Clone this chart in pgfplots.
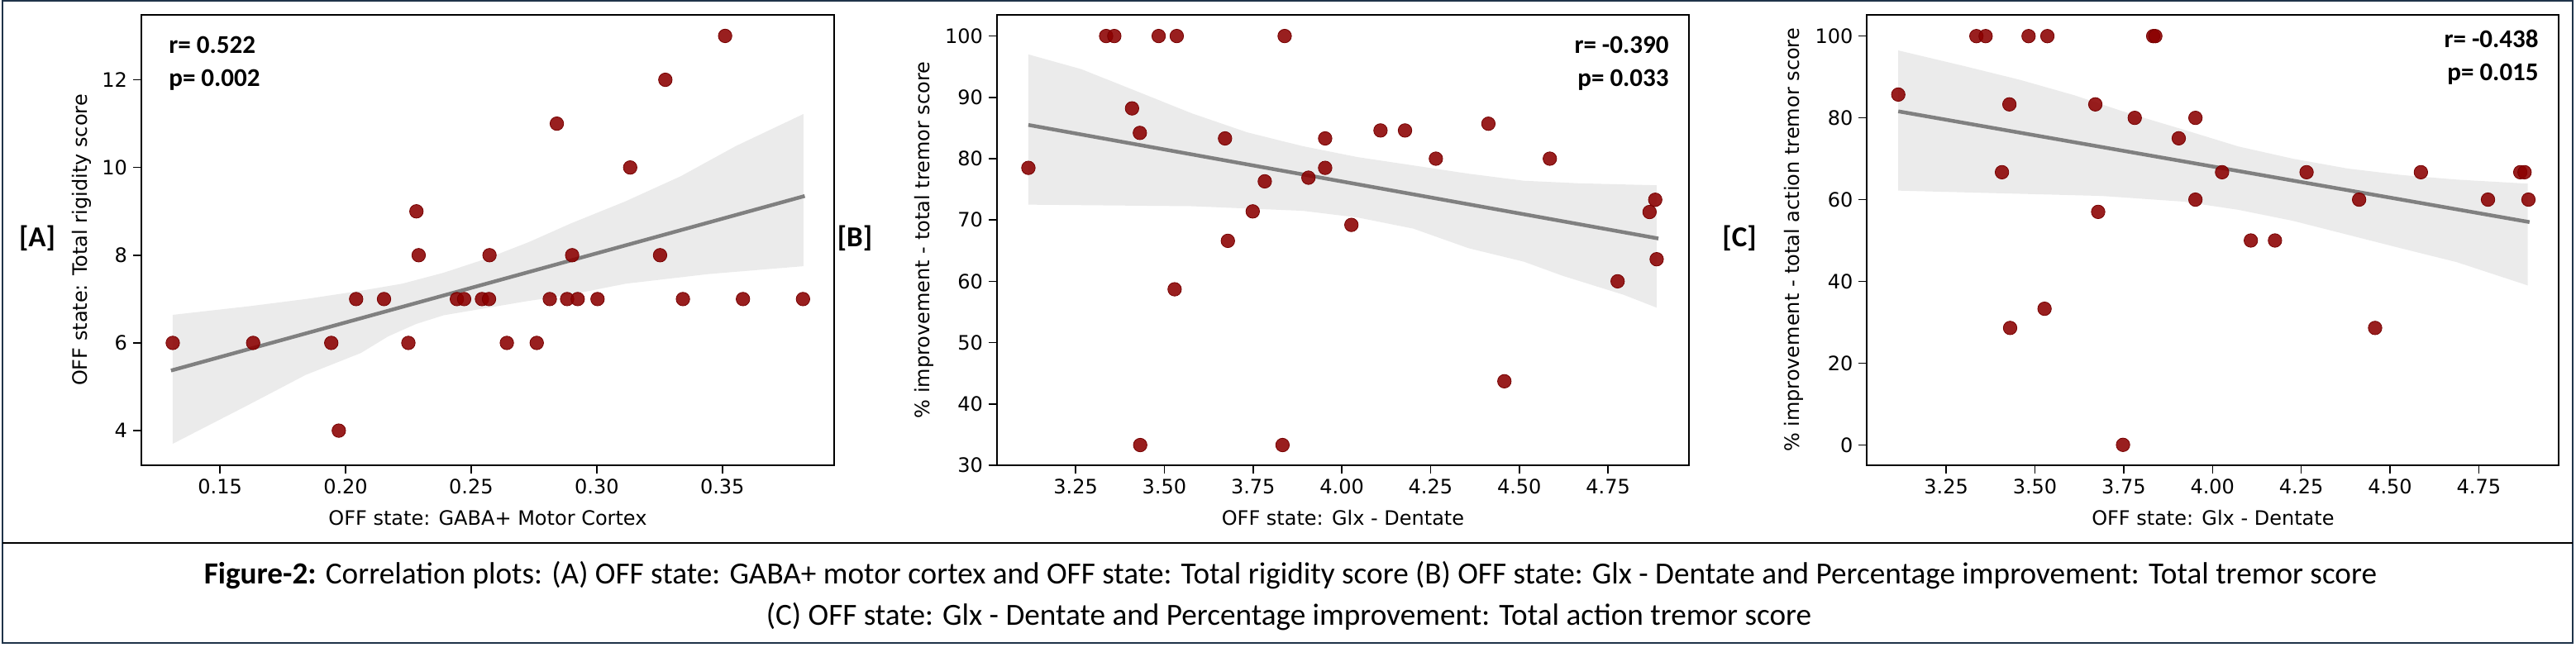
\documentclass[border=0pt]{standalone}
\usepackage{fontspec}
\setmainfont{Carlito}
\newfontfamily\dejavu{DejaVu Sans}
\usepackage{pgfplots}
\pgfplotsset{compat=1.18}

\definecolor{framenavy}{HTML}{1F3349}
\definecolor{bandgray}{HTML}{EBEBEB}
\definecolor{ptred}{HTML}{8B0000}
\definecolor{reggray}{HTML}{808080}

\pgfplotsset{
  panel/.style={
    scale only axis, width=419pt, height=272.5pt,
    anchor=south west,
    axis line style={black, line width=1pt},
    tick align=outside, major tick length=5pt, tick pos=left,
    every tick/.style={black, line width=0.75pt},
    tick label style={font=\dejavu\fontsize{12}{14}\selectfont},
    label style={font=\dejavu\fontsize{12}{14}\selectfont},
    /pgf/number format/assume math mode=true,
    xticklabel style={/pgf/number format/.cd, fixed, fixed zerofill, precision=2},
    yticklabel style={/pgf/number format/.cd, fixed},
    xlabel style={at={(axis description cs:0.5,0)}, anchor=base, yshift=-36pt},
  },
  band/.style={fill=bandgray, draw=none},
  reg/.style={reggray, line width=2.25pt},
  pts/.style={only marks, mark=*, mark size=4.1pt,
    mark options={fill=ptred, fill opacity=0.88, draw=ptred!85!black, line width=0.4pt}},
}

\begin{document}
\begin{tikzpicture}
\path[use as bounding box] (0,0) rectangle (1558pt,397pt);

% ---------- [A] ----------
\begin{axis}[panel, at={(85.5pt,115.5pt)},
    xmin=0.1187, xmax=0.3945, ymin=3.21, ymax=13.48,
    xtick={0.15,0.2,0.25,0.3,0.35}, ytick={4,6,8,10,12},
    xlabel={OFF state: GABA+ Motor Cortex},
    ylabel={OFF state: Total rigidity score},
    ylabel style={at={(axis description cs:-0.0776,0.5)}, anchor=base}]
  \addplot[band] coordinates {
    (0.1312,6.64) (0.1621,6.84) (0.1841,7.00) (0.2061,7.19) (0.2225,7.35)
    (0.2390,7.60) (0.2555,7.91) (0.2730,8.30) (0.2895,8.72) (0.3115,9.23)
    (0.3334,9.80) (0.3554,10.49) (0.3823,11.22)
    (0.3823,7.75) (0.3444,7.57) (0.3115,7.35) (0.2895,7.10) (0.2720,6.95)
    (0.2555,6.79) (0.2390,6.63) (0.2280,6.43) (0.2170,6.15) (0.2061,5.77)
    (0.1841,5.27) (0.1621,4.61) (0.1312,3.70)} -- cycle;
  \addplot[reg] coordinates {(0.1305,5.37) (0.3828,9.35)};
  \addplot[pts] coordinates {
    (0.3511,13) (0.3273,12) (0.2841,11) (0.3133,10) (0.2282,9)
    (0.2291,8) (0.2573,8) (0.2902,8) (0.3252,8)
    (0.2042,7) (0.2153,7) (0.2443,7) (0.2472,7) (0.2543,7) (0.2571,7)
    (0.2813,7) (0.2882,7) (0.2924,7) (0.3003,7) (0.3343,7) (0.3582,7) (0.3821,7)
    (0.1312,6) (0.1632,6) (0.1943,6) (0.2250,6) (0.2642,6) (0.2761,6)
    (0.1973,4)};
\end{axis}

% ---------- [B] ----------
\begin{axis}[panel, at={(603pt,115.5pt)}, width=418.5pt,
    xmin=3.0286, xmax=4.978, ymin=30, ymax=103.45,
    xtick={3.25,3.5,3.75,4,4.25,4.5,4.75}, ytick={30,40,...,100},
    xlabel={OFF state: Glx - Dentate},
    ylabel={\% improvement - total tremor score},
    ylabel style={at={(axis description cs:-0.0968,0.5)}, anchor=base}]
  \addplot[band] coordinates {
    (3.117,97.0) (3.266,94.6) (3.422,91.0) (3.577,87.4) (3.733,84.3)
    (3.889,82.05) (4.045,80.25) (4.201,78.9) (4.357,77.55) (4.513,76.4)
    (4.669,75.98) (4.887,75.66)
    (4.887,55.7) (4.794,57.8) (4.622,60.9) (4.513,63.2) (4.357,65.4)
    (4.201,68.6) (4.045,70.4) (3.889,71.5) (3.577,72.25) (3.117,72.5)} -- cycle;
  \addplot[reg] coordinates {(3.117,85.5) (4.892,66.98)};
  \addplot[pts] coordinates {
    (3.117,78.5) (3.336,100) (3.359,100) (3.484,100) (3.535,100) (3.839,100)
    (3.409,88.2) (3.431,84.2) (3.671,83.3) (3.953,83.3) (4.109,84.6) (4.178,84.6)
    (4.413,85.7) (4.265,80.0) (4.586,80.0) (3.953,78.5) (3.906,76.9) (3.783,76.3)
    (3.749,71.4) (4.027,69.2) (3.679,66.6) (4.883,73.3) (4.867,71.3) (4.887,63.6)
    (3.529,58.7) (4.777,60.0) (4.458,43.7) (3.432,33.3) (3.833,33.3)};
\end{axis}

% ---------- [C] ----------
\begin{axis}[panel, at={(1129.2pt,115.5pt)}, width=418.5pt,
    xmin=3.027, xmax=4.976, ymin=-5, ymax=105.2,
    xtick={3.25,3.5,3.75,4,4.25,4.5,4.75}, ytick={0,20,...,100},
    xlabel={OFF state: Glx - Dentate},
    ylabel={\% improvement - total action tremor score},
    ylabel style={at={(axis description cs:-0.098,0.5)}, anchor=base}]
  \addplot[band] coordinates {
    (3.115,96.5) (3.304,92.6) (3.458,89.3) (3.612,85.5) (3.765,81.1)
    (3.919,77.1) (4.073,73.0) (4.227,70.0) (4.381,67.6) (4.535,66.0)
    (4.688,64.9) (4.888,63.9)
    (4.888,39.0) (4.688,44.7) (4.535,48.0) (4.381,51.4) (4.227,54.8)
    (4.073,57.5) (3.919,59.5) (3.688,60.9) (3.381,61.6) (3.115,62.2)} -- cycle;
  \addplot[reg] coordinates {(3.115,81.6) (4.893,54.5)};
  \addplot[pts] coordinates {
    (3.335,100) (3.361,100) (3.482,100) (3.535,100) (3.833,100) (3.839,100)
    (3.115,85.7) (3.428,83.3) (3.670,83.3) (3.781,80) (3.952,80) (3.905,75)
    (3.407,66.7) (4.027,66.7) (4.265,66.7) (4.587,66.7) (4.867,66.7) (4.879,66.7)
    (3.952,60) (4.413,60) (4.776,60) (4.890,60) (3.678,57.0) (4.108,50) (4.176,50)
    (3.527,33.3) (3.430,28.6) (4.458,28.6) (3.748,0)};
\end{axis}

% annotations
\begin{scope}[every node/.style={font=\bfseries\fontsize{15.5}{18}\selectfont, inner sep=0pt}]
  \node[anchor=base west] at (102pt,364.5pt) {r= 0.522};
  \node[anchor=base west] at (102pt,344.75pt) {p= 0.002};
  \node[anchor=base east] at (1009.5pt,364.5pt) {r= -0.390};
  \node[anchor=base east] at (1009.5pt,344.75pt) {p= 0.033};
  \node[anchor=base east] at (1535.5pt,368pt) {r= -0.438};
  \node[anchor=base east] at (1535.5pt,348pt) {p= 0.015};
\end{scope}
\begin{scope}[every node/.style={font=\bfseries\fontsize{17.5}{20}\selectfont, inner sep=0pt}]
  \node at (22.5pt,252.75pt) {[A]};
  \node at (517pt,253pt) {[B]};
  \node at (1052pt,253pt) {[C]};
\end{scope}

% frame, separator and caption
\draw[framenavy, line width=1.25pt] (1.5pt,8pt) rectangle (1556pt,396.5pt);
\draw[black, line width=1.4pt] (1.5pt,68.5pt) -- (1556pt,68.5pt);
\node[anchor=base, inner sep=0pt, font=\fontsize{18.6}{22}\selectfont] at (780.5pt,44pt)
  {\textbf{Figure-2:} Correlation plots: (A) OFF state: GABA+ motor cortex and OFF state: Total rigidity score (B) OFF state: Glx - Dentate and Percentage improvement: Total tremor score};
\node[anchor=base, inner sep=0pt, font=\fontsize{18.6}{22}\selectfont] at (779.5pt,19pt)
  {(C) OFF state: Glx - Dentate and Percentage improvement: Total action tremor score};
\end{tikzpicture}
\end{document}
